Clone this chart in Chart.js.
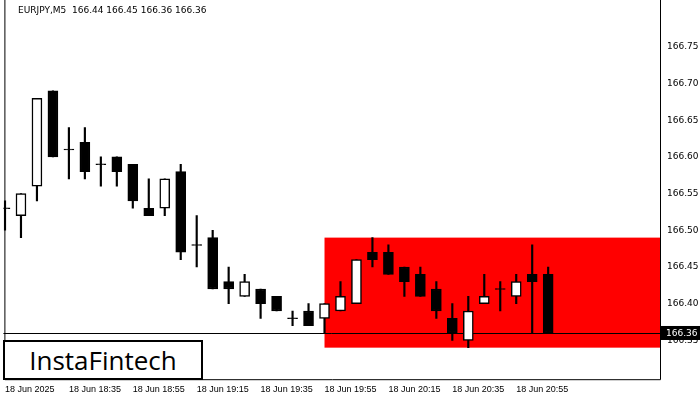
<!DOCTYPE html>
<html>
<head>
<meta charset="utf-8">
<script src="https://cdn.jsdelivr.net/npm/chart.js@4/dist/chart.umd.min.js"></script>
<style>
  body { margin: 0; background: #fff; }
  #wrap { position: relative; width: 700px; height: 400px; }
  #title { position: absolute; left: 18px; top: 5px; font: 9px "DejaVu Sans", sans-serif; color: #000; }
  #logo { position: absolute; left: 3px; top: 340px; width: 196px; height: 36px; border: 2px solid #000; background: #fff;
          font: 26px "Open Sans", sans-serif; line-height: 36px; text-align: center; color: #000; }
</style>
</head>
<body>
<div id="wrap">
  <canvas id="chart" width="700" height="400"></canvas>
  <div id="title">EURJPY,M5&nbsp; 166.44 166.45 166.36 166.36</div>
  <div id="logo">InstaFintech</div>
</div>
<script>
// candle data (5 min bars from 18:15)
const opens  = [166.53,166.52,166.56,166.69,166.61,166.62,166.59,166.60,166.59,166.53,166.53,166.58,166.48,166.49,166.43,166.41,166.42,166.41,166.38,166.39,
                166.38,166.39,166.40,166.47,166.47,166.45,166.44,166.42,166.38,166.35,166.40,166.42,166.41,166.44,166.44];
const closes = [166.53,166.55,166.68,166.60,166.61,166.58,166.59,166.58,166.54,166.52,166.57,166.47,166.48,166.42,166.42,166.43,166.40,166.39,166.38,166.37,
                166.40,166.41,166.46,166.46,166.44,166.43,166.41,166.39,166.36,166.39,166.41,166.42,166.43,166.43,166.36];
const highs  = [166.54,166.55,166.68,166.69,166.64,166.64,166.60,166.60,166.59,166.57,166.57,166.59,166.52,166.50,166.45,166.44,166.42,166.41,166.39,166.40,
                166.40,166.43,166.46,166.49,166.48,166.45,166.45,166.43,166.40,166.41,166.44,166.43,166.44,166.48,166.45];
const lows   = [166.50,166.49,166.54,166.60,166.57,166.57,166.56,166.56,166.53,166.52,166.52,166.46,166.45,166.42,166.40,166.41,166.38,166.39,166.37,166.37,
                166.36,166.39,166.40,166.45,166.44,166.41,166.41,166.38,166.35,166.34,166.40,166.39,166.40,166.36,166.36];
const timeLabels = ["18 Jun 2025","18 Jun 18:35","18 Jun 18:55","18 Jun 19:15","18 Jun 19:35","18 Jun 19:55","18 Jun 20:15","18 Jun 20:35","18 Jun 20:55"];
const yTicks = [166.35,166.40,166.45,166.50,166.55,166.60,166.65,166.70,166.75];
const zone = { from: 20, top: 166.49, bottom: 166.34 };
const lastPrice = 166.36;

const wicks = opens.map((o, i) => ({ x: i, y: [lows[i], highs[i]] }));
const bodies = opens.map((o, i) => ({ x: i, y: o === closes[i] ? [o - 0.0006, o + 0.0006] : [o, closes[i]] }));
const bodyFill = opens.map((o, i) => closes[i] >= o && o !== closes[i] ? '#ffffff' : '#000000');

const overlay = {
  id: 'overlay',
  beforeDatasetsDraw(chart) {
    const { ctx, scales: { x, y }, chartArea } = chart;
    const x0 = x.getPixelForValue(zone.from);
    ctx.save();
    ctx.fillStyle = '#ff0000';
    ctx.fillRect(x0, y.getPixelForValue(zone.top), chartArea.right - x0, y.getPixelForValue(zone.bottom) - y.getPixelForValue(zone.top));
    const ly = Math.round(y.getPixelForValue(lastPrice)) + 0.5;
    ctx.strokeStyle = '#000';
    ctx.lineWidth = 1;
    ctx.beginPath(); ctx.moveTo(chartArea.left, ly); ctx.lineTo(chartArea.right, ly); ctx.stroke();
    ctx.restore();
  },
  afterDraw(chart) {
    const { ctx, scales: { y }, chartArea } = chart;
    const ly = y.getPixelForValue(lastPrice);
    ctx.save();
    ctx.fillStyle = '#000';
    ctx.fillRect(chartArea.right + 1, ly - 7, 40, 14);
    ctx.fillStyle = '#fff';
    ctx.font = '9px "DejaVu Sans"';
    ctx.textBaseline = 'middle';
    ctx.fillText(lastPrice.toFixed(2), chartArea.right + 6, ly + 1);
    ctx.strokeStyle = '#000';
    ctx.lineWidth = 1;
    ctx.beginPath();
    ctx.moveTo(chartArea.left + 1.5, 0);
    ctx.lineTo(chartArea.left + 1.5, chartArea.bottom + 0.5);
    ctx.lineTo(chartArea.right + 0.5, chartArea.bottom + 0.5);
    ctx.lineTo(chartArea.right + 0.5, 0);
    ctx.stroke();
    ctx.restore();
  }
};

new Chart(document.getElementById('chart'), {
  type: 'bar',
  data: {
    datasets: [
      { data: wicks, backgroundColor: '#000', barThickness: 1.5, grouped: false, order: 2 },
      { data: bodies, backgroundColor: bodyFill, borderColor: '#000', borderWidth: 1.5, borderSkipped: false,
        barThickness: 10, grouped: false, order: 1 }
    ]
  },
  options: {
    responsive: false,
    animation: false,
    layout: { padding: { left: 0, top: 5, right: 0, bottom: 0 } },
    plugins: { legend: { display: false }, tooltip: { enabled: false } },
    scales: {
      x: {
        type: 'linear', min: -0.1, max: 41, offset: false,
        grid: { display: false, drawTicks: false },
        border: { display: false },
        afterBuildTicks(axis) { axis.ticks = timeLabels.map((t, i) => ({ value: i * 4 })); },
        ticks: {
          align: 'start', maxRotation: 0, autoSkip: false, padding: 5,
          font: { family: 'Liberation Sans', size: 9 }, color: '#000',
          callback: (v) => timeLabels[Math.round(v / 4)]
        }
      },
      y: {
        position: 'right', min: 166.297, max: 166.797,
        grid: { display: false, drawTicks: false },
        border: { display: false },
        afterBuildTicks(axis) { axis.ticks = yTicks.map(v => ({ value: v })); },
        afterFit(axis) { axis.width = 40; },
        ticks: { font: { family: 'DejaVu Sans', size: 9 }, color: '#000', padding: 7, callback: v => v.toFixed(2) }
      }
    }
  },
  plugins: [overlay]
});
</script>
</body>
</html>
